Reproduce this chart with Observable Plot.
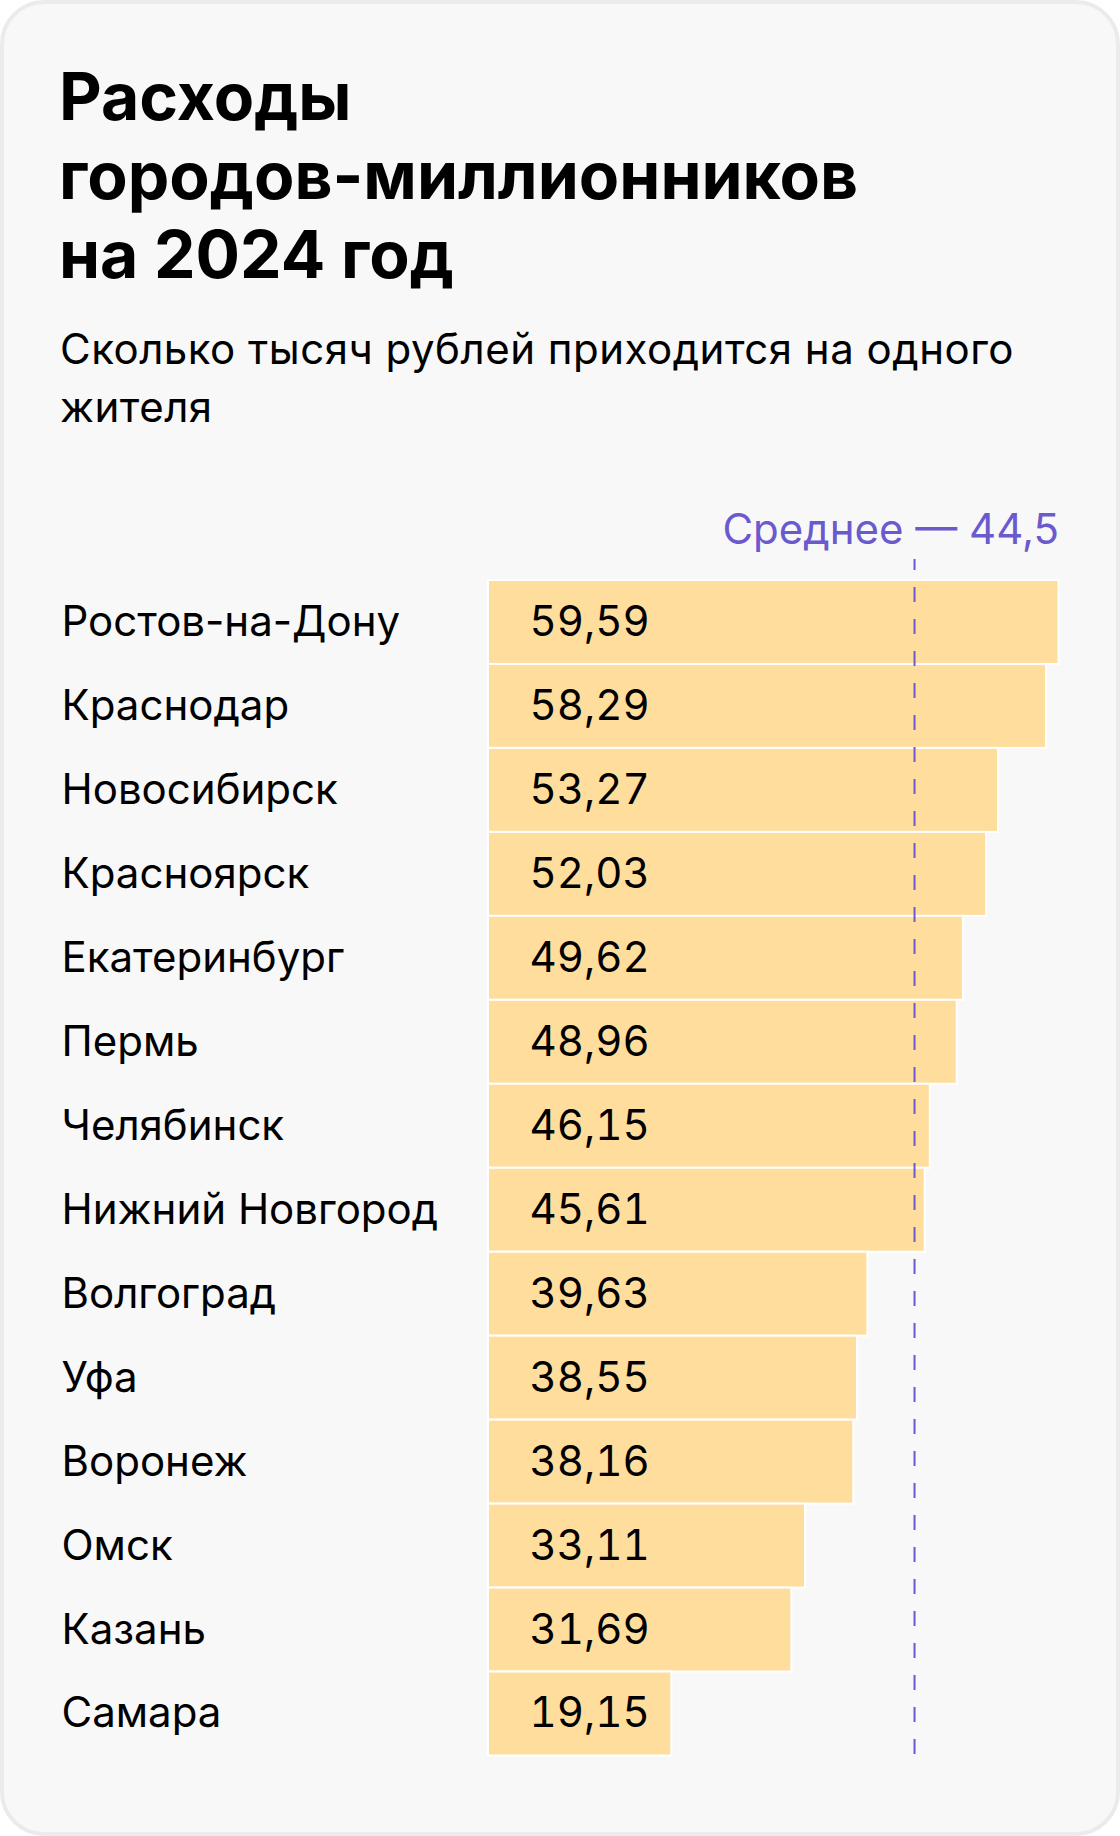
<!DOCTYPE html>
<html>
<head>
<meta charset="utf-8">
<script src="https://cdn.jsdelivr.net/npm/d3@7"></script>
<script src="https://cdn.jsdelivr.net/npm/@observablehq/plot@0.6"></script>
<style>
  html, body { margin: 0; padding: 0; background: #ffffff; }
  body { width: 1120px; height: 1836px; position: relative; overflow: hidden; font-family: Inter, "Noto Sans", sans-serif; }
  .card { position: absolute; left: 0; top: 0; width: 1120px; height: 1836px; box-sizing: border-box;
          border: 4px solid #ebebeb; border-radius: 44px; background: #f8f8f8; }
  h1 { position: absolute; left: 59px; top: 57px; margin: 0; font-size: 66px; line-height: 79px;
       font-weight: 700; color: #000; letter-spacing: 0px; }
  .sub { position: absolute; left: 60px; top: 320px; margin: 0; width: 1020px; font-size: 42px; line-height: 58px;
         font-weight: 400; color: #000; letter-spacing: 0.5px; }
  #chart { position: absolute; left: 0; top: 500px; }
</style>
</head>
<body>
<div class="card"></div>
<h1>Расходы<br>городов-миллионников<br>на 2024 год</h1>
<p class="sub">Сколько тысяч рублей приходится на одного жителя</p>
<div id="chart"></div>
<script>
const cities = ["Ростов-на-Дону","Краснодар","Новосибирск","Красноярск","Екатеринбург","Пермь","Челябинск","Нижний Новгород","Волгоград","Уфа","Воронеж","Омск","Казань","Самара"];
const values = [59.59,58.29,53.27,52.03,49.62,48.96,46.15,45.61,39.63,38.55,38.16,33.11,31.69,19.15];
const meanValue = 44.5;
const meanLabel = "Среднее — 44,5";

const data = cities.map((c, i) => ({city: c, value: values[i]}));
const fmt = v => v.toFixed(2).replace(".", ",");

const chart = Plot.plot({
  width: 1120,
  height: 1300,
  marginLeft: 488,
  marginRight: 61.5,
  marginTop: 59,
  marginBottom: 43,
  style: {background: "transparent", fontFamily: "Inter, 'Noto Sans', sans-serif"},
  x: {axis: null, domain: [0, d3.max(values)]},
  y: {axis: null, domain: cities, range: [80, 1255.5], padding: 0, round: false},
  marks: [
    Plot.barX(data, {x: "value", y: "city", fill: "#FFDD9D", stroke: "#ffffff", strokeWidth: 2}),
    Plot.text(data, {x: 0, y: "city", text: d => fmt(d.value), dx: 41, textAnchor: "start", fontSize: 42, fontVariant: "tabular-nums", fill: "#000"}),
    Plot.text(data, {y: "city", text: "city", frameAnchor: "left", dx: -427, textAnchor: "start", fontSize: 42, fill: "#000"}),
    Plot.ruleX([meanValue], {stroke: "#6A5ACD", strokeWidth: 2, strokeDasharray: "15,17", strokeDashoffset: 4}),
    Plot.text([meanLabel], {frameAnchor: "top-right", lineAnchor: "bottom", dy: -16, textAnchor: "end", fontSize: 42, fill: "#6A5ACD"})
  ]
});
document.getElementById("chart").appendChild(chart);
</script>
</body>
</html>
